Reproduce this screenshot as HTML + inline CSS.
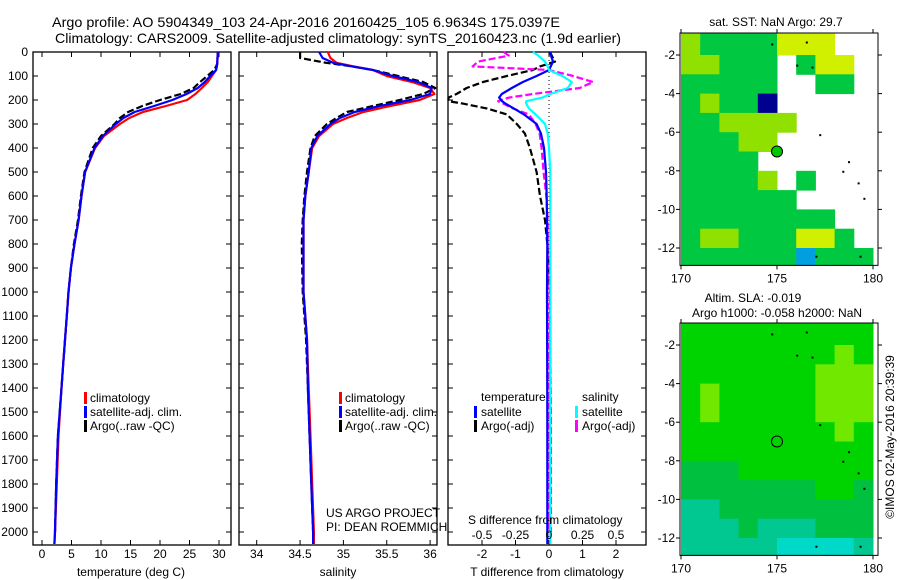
<!DOCTYPE html>
<html><head><meta charset="utf-8"><style>
html,body{margin:0;padding:0;background:#fff;overflow:hidden;width:900px;height:580px;}
svg{display:block;font-family:"Liberation Sans",sans-serif;}
</style></head><body>
<svg id="fig" width="900" height="580" xmlns="http://www.w3.org/2000/svg">
<text x="52" y="27" font-size="14" textLength="508" lengthAdjust="spacingAndGlyphs">Argo profile: AO 5904349_103 24-Apr-2016 20160425_105 6.9634S 175.0397E</text>
<text x="55" y="43" font-size="14" textLength="566" lengthAdjust="spacingAndGlyphs">Climatology: CARS2009. Satellite-adjusted climatology: synTS_20160423.nc (1.9d earlier)</text>
<g id="maps"></g>
<g id="panels"></g>
</svg>
<script>
// ---- profile data ----
const depthsT = [0,50,75,100,125,150,175,200,225,250,275,300,350,400,500,600,700,800,900,1000,1100,1200,1300,1400,1600,1800,2000,2050];
const tempSat = [29.8,29.7,29.5,28.5,27.6,26.4,24.5,22.1,19.0,15.7,13.8,12.5,10.3,8.9,7.3,6.7,6.2,5.5,4.9,4.5,4.2,3.9,3.6,3.3,2.7,2.4,2.2,2.1];
const tempClim = [29.8,29.7,29.5,28.8,28.1,27.1,26.0,24.6,21.0,17.1,14.8,13.2,10.5,9.0,7.3,6.7,6.2,5.5,4.9,4.5,4.2,3.9,3.6,3.3,2.8,2.5,2.2,2.1];
const tempArgo = [29.8,29.7,29.2,28.0,26.8,25.7,23.5,20.0,17.0,14.6,13.2,12.3,10.0,8.6,7.2,6.6,6.1,5.4,4.9,4.5,4.2,3.9,3.6,3.3,2.7,2.4,2.2,null];
const depthsS = [0,25,45,60,75,100,125,150,175,200,225,250,275,300,350,400,500,600,700,800,1000,1100,1200,1400,1600,1800,2000,2050];
const salSat = [34.72,34.76,34.88,35.1,35.34,35.57,35.86,36.02,36.0,35.77,35.42,35.13,34.96,34.85,34.7,34.63,34.6,34.56,34.54,34.54,34.54,34.56,34.58,34.59,34.61,34.63,34.65,34.65];
const salClim = [34.82,34.85,34.92,35.12,35.34,35.5,35.79,36.0,36.05,35.88,35.54,35.23,35.04,34.88,34.72,34.64,34.6,34.56,34.54,34.54,34.54,34.56,34.58,34.6,34.62,34.64,34.66,34.66];
const salArgo = [34.5,34.5,34.8,35.1,35.34,35.63,35.92,36.06,35.92,35.65,35.34,35.04,34.92,34.81,34.67,34.62,34.58,34.55,34.53,34.52,34.53,34.55,34.57,34.59,34.61,34.63,34.65,null];
const depthsD = [0,15,40,60,75,100,125,150,175,190,205,215,235,260,300,340,400,500,600,700,800,1000,1500,2000,2050];
const dTSat = [0.03,0.06,0.12,0.05,0,-0.37,-0.78,-1.11,-1.41,-1.49,-1.4,-1.3,-1.05,-0.75,-0.37,-0.24,-0.15,-0.09,-0.07,-0.06,-0.05,-0.06,-0.05,-0.05,-0.05];
const dTArgo = [0.03,0.08,0.18,-0.27,-0.48,-1.26,-1.97,-2.46,-2.76,-3.0,-3.0,-2.57,-1.86,-1.26,-0.96,-0.72,-0.57,-0.37,-0.27,-0.12,-0.05,0.03,0.05,0.05,null];
const dSSat = [-0.12,-0.08,-0.03,-0.01,0,0.1,0.17,0.14,0.01,-0.05,-0.17,-0.17,-0.15,-0.1,-0.03,-0.01,0,0.01,0.01,0.01,0.01,0.01,0.01,0.01,0.01];
const dSArgo = [-0.34,-0.3,-0.53,-0.57,0,0.18,0.33,0.23,-0.12,-0.3,-0.38,-0.34,-0.27,-0.15,-0.1,-0.07,-0.055,-0.04,-0.02,-0.01,-0.01,-0.01,0,0,null];
const depthTicks = [0,100,200,300,400,500,600,700,800,900,1000,1100,1200,1300,1400,1500,1600,1700,1800,1900,2000];
const tempTicks = [0,5,10,15,20,25,30];
const salTicks = [34,34.5,35,35.5,36];
const dTTicks = [-2,-1,0,1,2];
const dSTicks = [-0.5,-0.25,0,0.25,0.5];

// ---- map data (1-degree cells, lat -1..-13 rows, lon 170..180 cols) ----
const sstRows = ["LGGGGYYYWW","LLGGGWGYYW","GGGGGWWGGW","GLGGDWWWWW","GGLLLLWWWW","GGGLLWWWWW","GGGGWWWWWW","GGGGLWGWWW","GGGGGGWWWW","GGGGGGGGWW","GLLGGGYYGW","GGGGGGBGGG"];
const slaRows = ["gggggggggg","gggggggglg","ggggggglll","glggggglll","glggggglll","gggggggglg","gggggggggg","bbbggggggg","bbbbbbbggb","ttbbbbbbbb","tttbtttbbb","tttttcccct"];
const mapLatTicks = [-2,-4,-6,-8,-10,-12];
const mapLonTicks = [170,175,180];
const islandsLon = [174.7,176.0,176.5,176.8,177.2,178.4,178.7,179.2,179.5,179.3,177.0];
const islandsLat = [-1.4,-2.5,-1.3,-2.6,-6.1,-8.0,-7.5,-8.6,-9.4,-12.4,-12.4];

const NS = "http://www.w3.org/2000/svg";
const svg = document.getElementById('fig');
function mk(tag, attrs, parent){ const e=document.createElementNS(NS,tag); for(const k in attrs) e.setAttribute(k,attrs[k]); (parent||svg).appendChild(e); return e; }
function txt(x,y,s,size,anchor,parent){ const t=mk('text',{x:x,y:y,'font-size':size||12,'text-anchor':anchor||'start'},parent); t.textContent=s; return t; }

const dY = d => 52 + d*0.24;
const PB = 545;
const panelsG = document.getElementById('panels');

function panel(name, x0, x1, xs, ticks, tickFmt, title, titleX){
  const g = mk('g',{},panelsG);
  
  
  const r = mk('rect',{x:x0,y:52,width:x1-x0,height:PB-52,fill:'none',stroke:'#000','stroke-width':1.3},g);
  
  
  depthTicks.forEach(d=>{
    mk('line',{x1:x0,x2:x0+5,y1:dY(d),y2:dY(d),stroke:'#000'},g);
    mk('line',{x1:x1-5,x2:x1,y1:dY(d),y2:dY(d),stroke:'#000'},g);
  });
  ticks.forEach(v=>{
    const x = xs(v);
    mk('line',{x1:x,x2:x,y1:52,y2:57,stroke:'#000'},g);
    mk('line',{x1:x,x2:x,y1:PB-5,y2:PB,stroke:'#000'},g);
    const t = txt(x,558,tickFmt(v),12,'middle',g);
    
    
  });
  const tt = txt(titleX,576,title,12,'middle',g);
  
  
  return g;
}
function line(g, xs, depths, vals, color, dash, name){
  let pts=[];
  depths.forEach((d,i)=>{ if(vals[i]!==null && vals[i]!==undefined) pts.push(xs(vals[i]).toFixed(1)+','+dY(d).toFixed(1)); });
  const p = mk('polyline',{points:pts.join(' '),fill:'none',stroke:color,'stroke-width':2.2,'stroke-linejoin':'round'},g);
  if(dash) p.setAttribute('stroke-dasharray',dash);
  
  
}
function legendBar(g,x,y,color){ mk('rect',{x:x,y:y-6,width:3,height:12,fill:color},g); }

depthTicks.forEach(d=>{
  const t = txt(28,dY(d)+4,String(d),12,'end');
  
  
});

// Panel 1
const tx = v => 42 + v*5.9;
const g1 = panel('temperature-panel',33,231,tx,tempTicks,v=>String(v),'temperature (deg C)',131);
line(g1,tx,depthsT,tempArgo,'#000','7 3','argo-temperature-line');
line(g1,tx,depthsT,tempClim,'#ff0000',null,'climatology-temperature-line');
line(g1,tx,depthsT,tempSat,'#0000ff',null,'satellite-temperature-line');
[['climatology','#ff0000'],['satellite-adj. clim.','#0000ff'],['Argo(..raw -QC)','#000']].forEach((e,i)=>{
  legendBar(g1,84,398+i*14,e[1]); const t=txt(90,402+i*14,e[0],12,'start',g1);
   
});

// Panel 2
const sx = v => 256.7 + (v-34)*86.7;
const g2 = panel('salinity-panel',239,437,sx,salTicks,v=>String(v),'salinity',338);
line(g2,sx,depthsS,salArgo,'#000','7 3','argo-salinity-line');
line(g2,sx,depthsS,salClim,'#ff0000',null,'climatology-salinity-line');
line(g2,sx,depthsS,salSat,'#0000ff',null,'satellite-salinity-line');
[['climatology','#ff0000'],['satellite-adj. clim.','#0000ff'],['Argo(..raw -QC)','#000']].forEach((e,i)=>{
  legendBar(g2,339,398+i*14,e[1]); const t=txt(345,402+i*14,e[0],12,'start',g2);
   
});
let t1=txt(326,517,'US ARGO PROJECT',12,'start',g2);  
let t2=txt(326,531,'PI: DEAN ROEMMICH',12,'start',g2);  

// Panel 3
const dtx = v => 549 + v*33.5;
const dsx = v => 549 + v*134;
const g3 = panel('difference-panel',448,646,dtx,dTTicks,v=>String(v),'T difference from climatology',547);
mk('line',{x1:549,x2:549,y1:52,y2:PB,stroke:'#000','stroke-dasharray':'1 3'},g3);
line(g3,dtx,depthsD,dTArgo,'#000','7 3','argo-temperature-difference-line');
line(g3,dsx,depthsD,dSArgo,'#ff00ff','7 3','argo-salinity-difference-line');
line(g3,dtx,depthsD,dTSat,'#0000ff',null,'satellite-temperature-difference-line');
line(g3,dsx,depthsD,dSSat,'#00ffff',null,'satellite-salinity-difference-line');
let t3=txt(481,401,'temperature',12,'start',g3);  
let t4=txt(582,401,'salinity',12,'start',g3);  
[['satellite','#0000ff',474,481],['Argo(-adj)','#000',474,481],['satellite','#00ffff',575,582],['Argo(-adj)','#ff00ff',575,582]].forEach((e,i)=>{
  const row=i%2; legendBar(g3,e[2],412+row*14,e[1]); const t=txt(e[3],416+row*14,e[0],12,'start',g3);
   
});
let t5=txt(468,524,'S difference from climatology',12,'start',g3);  
dSTicks.forEach(v=>{ const t=txt(dsx(v),539,String(v),12,'middle',g3);   });

// ---- maps ----
const mapsG = document.getElementById('maps');
const lonX = l => 681 + (l-170)*19.2;
const sstColors = {G:'#00c840',L:'#90e000',Y:'#d0f000',D:'#000090',B:'#00a0e0'};
const slaColors = {g:'#00d400',l:'#70e800',b:'#00c040',t:'#00c890',c:'#00d8c8'};
function drawMap(name, top, latY, rows, colors, markerFill){
  const g = mk('g',{},mapsG);
  
  
  const x0=680, x1=878, bottom=latY(-12.9);
  rows.forEach((row,ri)=>{
    for(let ci=0; ci<10; ci++){
      const c = row[ci];
      if(!colors[c]) continue;
      const cx0=lonX(170+ci), cy0=ri===0?top:latY(-1-ri);
      const cy1=Math.min(latY(-2-ri),bottom);
      const cx1=Math.min(lonX(171+ci),x1);
      const cell = mk('rect',{x:cx0,y:cy0,width:cx1-cx0+0.5,height:cy1-cy0+0.5,fill:colors[c]},g);
      
      
    }
  });
  islandsLon.forEach((l,i)=>{ mk('rect',{x:lonX(l),y:latY(islandsLat[i]),width:2,height:2,fill:'#000'},g); });
  mk('circle',{cx:lonX(175),cy:latY(-7),r:5.5,fill:markerFill,stroke:'#000','stroke-width':1},g);
  mk('rect',{x:x0,y:top,width:x1-x0,height:bottom-top,fill:'none',stroke:'#000','stroke-width':1},g);
  mapLatTicks.forEach(a=>{
    mk('line',{x1:x0,x2:x0-4,y1:latY(a),y2:latY(a),stroke:'#000'},g);
    mk('line',{x1:x1,x2:x1+4,y1:latY(a),y2:latY(a),stroke:'#000'},g);
    const t=txt(675,latY(a)+4,String(a),12,'end',g);  
  });
  mapLonTicks.forEach(l=>{
    mk('line',{x1:lonX(l),x2:lonX(l),y1:top,y2:top-4,stroke:'#000'},g);
    mk('line',{x1:lonX(l),x2:lonX(l),y1:bottom,y2:bottom+4,stroke:'#000'},g);
    const t=txt(lonX(l),bottom+17,String(l),12,'middle',g);  
  });
}
drawMap('sst-map',33,a=>55+(-2-a)*19.3,sstRows,sstColors,'#00c800');
drawMap('sla-map',323,a=>345+(-2-a)*19.3,slaRows,slaColors,'none');
let m1=txt(776,26,'sat. SST: NaN Argo: 29.7',12,'middle');  
let m2=txt(753,302,'Altim. SLA: -0.019',12,'middle');  
let m3=txt(777,317,'Argo h1000: -0.058 h2000: NaN',12,'middle');  
let m4=txt(0,0,'©IMOS 02-May-2016 20:39:39',12,'middle'); m4.setAttribute('transform','translate(894,437) rotate(-90)');
 
</script>
</body></html>
